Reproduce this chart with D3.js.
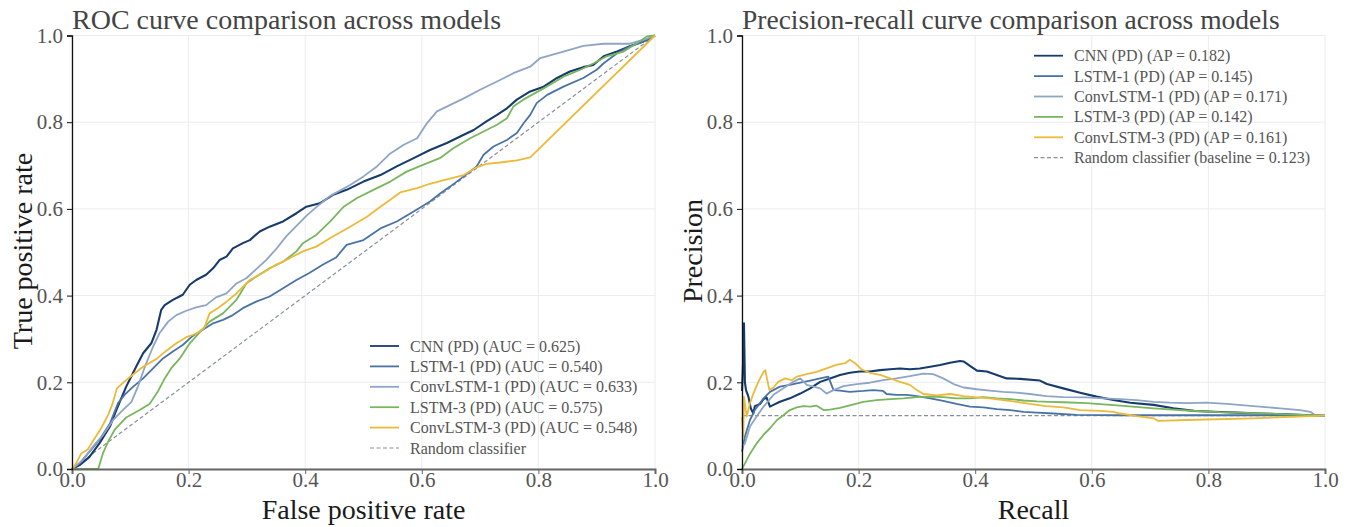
<!DOCTYPE html>
<html>
<head>
<meta charset="utf-8">
<script src="https://cdn.jsdelivr.net/npm/d3@7"></script>
<style>
  html, body { margin: 0; padding: 0; background: #fff; }
  svg { display: block; }
  text { font-family: "Liberation Serif", "Times New Roman", serif; }
</style>
</head>
<body>
<svg id="chart" width="1348" height="527"></svg>
<script>
// ---- model names and scores ----
const modelNames = ["CNN", "LSTM-1", "ConvLSTM-1", "LSTM-3", "ConvLSTM-3"];
const aucScores = [0.625, 0.540, 0.633, 0.575, 0.548];
const apScores = [0.182, 0.145, 0.171, 0.142, 0.161];
const baselinePrecision = 0.123;
const tickValues = [0, 0.2, 0.4, 0.6, 0.8, 1.0];

// ---- ROC curves: [false positive rate, true positive rate] ----
const rocCNN = [
  [0,0],[0.013,0.009],[0.030,0.028],[0.047,0.059],[0.065,0.098],[0.076,0.136],[0.093,0.190],
  [0.110,0.236],[0.122,0.267],[0.136,0.290],[0.145,0.321],[0.153,0.367],[0.159,0.378],
  [0.173,0.390],[0.190,0.402],[0.202,0.425],[0.213,0.436],[0.230,0.448],[0.242,0.463],
  [0.253,0.482],[0.265,0.490],[0.276,0.509],[0.293,0.521],[0.305,0.528],[0.322,0.548],
  [0.339,0.559],[0.362,0.571],[0.385,0.590],[0.402,0.605],[0.425,0.613],[0.447,0.632],
  [0.471,0.644],[0.500,0.663],[0.529,0.678],[0.557,0.698],[0.586,0.717],[0.614,0.736],
  [0.643,0.752],[0.672,0.771],[0.689,0.782],[0.711,0.802],[0.729,0.817],[0.746,0.832],
  [0.763,0.852],[0.786,0.871],[0.809,0.882],[0.832,0.902],[0.854,0.917],[0.877,0.927],
  [0.894,0.932],[0.912,0.952],[0.935,0.963],[0.957,0.975],[0.980,0.986],[1,1]
];
const rocLSTM1 = [
  [0,0],[0.013,0.013],[0.030,0.040],[0.047,0.067],[0.065,0.105],[0.079,0.152],[0.090,0.171],
  [0.105,0.190],[0.122,0.209],[0.139,0.232],[0.156,0.255],[0.173,0.271],[0.190,0.286],
  [0.207,0.307],[0.225,0.322],[0.242,0.336],[0.259,0.344],[0.276,0.355],[0.293,0.371],
  [0.316,0.386],[0.339,0.398],[0.362,0.417],[0.385,0.436],[0.407,0.452],[0.430,0.471],
  [0.453,0.488],[0.471,0.517],[0.500,0.528],[0.529,0.555],[0.557,0.571],[0.586,0.594],
  [0.614,0.617],[0.632,0.636],[0.649,0.652],[0.672,0.675],[0.694,0.698],[0.706,0.725],
  [0.723,0.744],[0.746,0.759],[0.763,0.775],[0.775,0.798],[0.786,0.817],[0.797,0.844],
  [0.815,0.863],[0.843,0.882],[0.877,0.902],[0.900,0.921],[0.912,0.936],[0.935,0.959],
  [0.957,0.975],[0.980,0.986],[1,1]
];
const rocConvLSTM1 = [
  [0,0],[0.019,0.021],[0.036,0.052],[0.053,0.078],[0.070,0.112],[0.087,0.136],[0.102,0.155],
  [0.113,0.190],[0.125,0.236],[0.139,0.282],[0.150,0.313],[0.165,0.340],[0.179,0.355],
  [0.196,0.365],[0.213,0.373],[0.230,0.378],[0.247,0.396],[0.265,0.405],[0.282,0.428],
  [0.299,0.440],[0.316,0.461],[0.333,0.482],[0.350,0.507],[0.367,0.536],[0.385,0.561],
  [0.402,0.584],[0.419,0.604],[0.443,0.630],[0.477,0.655],[0.500,0.675],[0.523,0.698],
  [0.546,0.728],[0.569,0.748],[0.592,0.763],[0.609,0.798],[0.626,0.825],[0.649,0.840],
  [0.672,0.855],[0.700,0.875],[0.729,0.894],[0.757,0.913],[0.786,0.928],[0.803,0.948],
  [0.843,0.963],[0.877,0.976],[0.912,0.981],[0.957,0.981],[0.980,0.990],[1,1]
];
const rocLSTM3 = [
  [0,0],[0.045,0],[0.053,0.036],[0.062,0.063],[0.073,0.090],[0.093,0.119],[0.116,0.136],
  [0.133,0.150],[0.147,0.178],[0.159,0.209],[0.170,0.232],[0.185,0.255],[0.202,0.290],
  [0.219,0.315],[0.236,0.340],[0.259,0.359],[0.282,0.390],[0.299,0.428],[0.316,0.444],
  [0.339,0.463],[0.362,0.478],[0.385,0.502],[0.396,0.521],[0.419,0.540],[0.443,0.571],
  [0.466,0.605],[0.489,0.625],[0.517,0.644],[0.546,0.663],[0.574,0.686],[0.603,0.702],
  [0.631,0.717],[0.654,0.740],[0.683,0.763],[0.711,0.782],[0.729,0.794],[0.746,0.809],
  [0.757,0.836],[0.774,0.852],[0.809,0.878],[0.843,0.905],[0.872,0.921],[0.895,0.936],
  [0.917,0.952],[0.946,0.963],[0.969,0.982],[0.986,0.998],[1,1]
];
const rocConvLSTM3 = [
  [0,0],[0.007,0.013],[0.016,0.036],[0.027,0.045],[0.039,0.071],[0.050,0.094],[0.062,0.125],
  [0.070,0.152],[0.077,0.186],[0.087,0.198],[0.102,0.215],[0.122,0.236],[0.145,0.254],
  [0.162,0.273],[0.179,0.290],[0.196,0.304],[0.213,0.312],[0.227,0.326],[0.236,0.359],
  [0.250,0.371],[0.265,0.386],[0.282,0.405],[0.305,0.436],[0.327,0.452],[0.350,0.471],
  [0.373,0.486],[0.396,0.502],[0.419,0.513],[0.443,0.533],[0.477,0.559],[0.506,0.582],
  [0.529,0.605],[0.546,0.621],[0.563,0.638],[0.592,0.648],[0.614,0.658],[0.643,0.668],
  [0.672,0.678],[0.694,0.696],[0.711,0.704],[0.734,0.707],[0.763,0.712],[0.786,0.719],[1,1]
];

// ---- precision-recall curves: [recall, precision] ----
const prCNN = [
  [0.000,0.180],[0.002,0.250],[0.0034,0.336],[0.005,0.200],[0.0069,0.182],[0.011,0.167],
  [0.015,0.140],[0.0195,0.128],[0.022,0.145],[0.031,0.150],[0.037,0.161],[0.042,0.165],
  [0.048,0.144],[0.054,0.148],[0.065,0.155],[0.082,0.163],[0.100,0.174],[0.117,0.186],
  [0.134,0.201],[0.151,0.209],[0.168,0.217],[0.185,0.222],[0.202,0.225],[0.219,0.225],
  [0.237,0.228],[0.254,0.230],[0.271,0.232],[0.288,0.230],[0.305,0.232],[0.323,0.236],
  [0.340,0.240],[0.357,0.245],[0.374,0.249],[0.380,0.248],[0.391,0.238],[0.403,0.227],
  [0.420,0.225],[0.437,0.217],[0.454,0.209],[0.477,0.208],[0.511,0.204],[0.523,0.196],
  [0.551,0.186],[0.580,0.176],[0.608,0.167],[0.637,0.159],[0.666,0.153],[0.706,0.148],
  [0.740,0.140],[0.775,0.134],[0.809,0.132],[0.849,0.130],[0.889,0.128],[0.935,0.126],
  [0.975,0.124],[1.0,0.123]
];
const prLSTM1 = [
  [0.000,0.040],[0.005,0.075],[0.0137,0.113],[0.022,0.136],[0.037,0.163],[0.048,0.178],
  [0.065,0.190],[0.082,0.194],[0.100,0.199],[0.117,0.204],[0.134,0.209],[0.148,0.213],
  [0.157,0.182],[0.168,0.181],[0.185,0.178],[0.208,0.180],[0.225,0.182],[0.242,0.180],
  [0.248,0.173],[0.265,0.171],[0.282,0.171],[0.300,0.168],[0.323,0.163],[0.345,0.157],
  [0.368,0.150],[0.391,0.144],[0.414,0.142],[0.437,0.138],[0.460,0.136],[0.483,0.132],
  [0.506,0.130],[0.534,0.128],[0.574,0.125],[0.649,0.124],[0.763,0.124],[0.880,0.124],[1.0,0.123]
];
const prConvLSTM1 = [
  [0.000,0.050],[0.005,0.059],[0.0137,0.098],[0.025,0.121],[0.037,0.144],[0.054,0.171],
  [0.071,0.186],[0.088,0.201],[0.100,0.209],[0.111,0.194],[0.123,0.190],[0.134,0.186],
  [0.145,0.174],[0.157,0.182],[0.174,0.191],[0.197,0.196],[0.219,0.199],[0.242,0.205],
  [0.265,0.209],[0.288,0.214],[0.311,0.220],[0.328,0.219],[0.345,0.209],[0.363,0.196],
  [0.380,0.188],[0.403,0.184],[0.425,0.181],[0.448,0.178],[0.471,0.176],[0.494,0.173],
  [0.522,0.168],[0.551,0.166],[0.591,0.165],[0.620,0.163],[0.649,0.161],[0.677,0.159],
  [0.706,0.155],[0.734,0.153],[0.763,0.152],[0.797,0.153],[0.832,0.150],[0.877,0.145],
  [0.923,0.140],[0.957,0.136],[0.975,0.132],[0.983,0.124],[1.0,0.123]
];
const prLSTM3 = [
  [0.000,0.000],[0.002,0.005],[0.014,0.036],[0.025,0.059],[0.037,0.079],[0.048,0.094],
  [0.060,0.113],[0.071,0.124],[0.082,0.136],[0.094,0.142],[0.105,0.145],[0.117,0.144],
  [0.128,0.146],[0.140,0.136],[0.151,0.137],[0.168,0.141],[0.185,0.147],[0.208,0.155],
  [0.231,0.159],[0.254,0.161],[0.277,0.163],[0.300,0.166],[0.323,0.167],[0.345,0.166],
  [0.368,0.163],[0.391,0.163],[0.414,0.166],[0.437,0.163],[0.460,0.161],[0.483,0.158],
  [0.506,0.156],[0.528,0.155],[0.551,0.154],[0.591,0.152],[0.649,0.146],[0.706,0.140],
  [0.763,0.135],[0.820,0.131],[0.877,0.129],[0.935,0.126],[1.0,0.123]
];
const prConvLSTM3 = [
  [0.000,0.120],[0.0023,0.074],[0.0034,0.167],[0.008,0.121],[0.0137,0.152],[0.0195,0.174],
  [0.028,0.201],[0.037,0.224],[0.040,0.228],[0.044,0.201],[0.047,0.182],[0.054,0.188],
  [0.062,0.201],[0.074,0.209],[0.085,0.205],[0.094,0.213],[0.111,0.219],[0.128,0.224],
  [0.145,0.232],[0.162,0.240],[0.177,0.244],[0.185,0.252],[0.194,0.244],[0.205,0.230],
  [0.219,0.222],[0.237,0.217],[0.254,0.209],[0.271,0.201],[0.288,0.194],[0.300,0.182],
  [0.311,0.173],[0.334,0.170],[0.357,0.173],[0.380,0.168],[0.403,0.165],[0.425,0.163],
  [0.448,0.159],[0.471,0.155],[0.494,0.150],[0.522,0.145],[0.551,0.142],[0.580,0.136],
  [0.614,0.134],[0.637,0.132],[0.649,0.128],[0.677,0.122],[0.706,0.117],[0.714,0.111],
  [0.763,0.113],[0.877,0.117],[1.0,0.123]
];

const rocSeries = [rocCNN, rocLSTM1, rocConvLSTM1, rocLSTM3, rocConvLSTM3];
const prSeries = [prCNN, prLSTM1, prConvLSTM1, prLSTM3, prConvLSTM3];
const colors = ["#173c6c", "#4a73a5", "#8ea5c5", "#7ab65e", "#ebba3a"];
const dashColor = "#8a909b";

const svg = d3.select("#chart");

function drawPanel(opts) {
  const x = d3.scaleLinear().domain([0, 1]).range([opts.x0, opts.x1]);
  const y = d3.scaleLinear().domain([0, 1]).range([469, 35.5]);
  const g = svg.append("g");

  // grid
  g.append("g").selectAll("line").data(tickValues).join("line")
    .attr("x1", d => x(d)).attr("x2", d => x(d))
    .attr("y1", y(0)).attr("y2", y(1))
    .attr("stroke", "#ececec").attr("stroke-width", 1);
  g.append("g").selectAll("line").data(tickValues).join("line")
    .attr("x1", x(0)).attr("x2", x(1))
    .attr("y1", d => y(d)).attr("y2", d => y(d))
    .attr("stroke", "#ececec").attr("stroke-width", 1);

  // reference line
  const line = d3.line().x(d => x(d[0])).y(d => y(d[1]));
  g.append("path").datum(opts.reference).attr("d", line)
    .attr("fill", "none").attr("stroke", dashColor)
    .attr("stroke-width", 1.2).attr("stroke-dasharray", "4,2.5");

  // curves
  opts.series.forEach((s, i) => {
    g.append("path").datum(s).attr("d", line)
      .attr("fill", "none").attr("stroke", colors[i])
      .attr("stroke-width", i === 0 ? 2.1 : 1.8)
      .attr("stroke-linejoin", "round");
  });

  // axes
  const fmt = d3.format(".1f");
  const xAxis = g.append("g").attr("transform", `translate(0,${y(0)})`)
    .call(d3.axisBottom(x).tickValues(tickValues).tickFormat(fmt).tickSize(5));
  xAxis.select(".domain").attr("stroke", "#666").attr("stroke-width", 2);
  xAxis.selectAll(".tick line").attr("stroke", "#666").attr("stroke-width", 1);
  xAxis.selectAll(".tick text").attr("y", 3).attr("fill", "#555").style("font-size", "21px")
    .style("font-family", "'Liberation Serif', serif");

  const yAxis = g.append("g").attr("transform", `translate(${x(0)},0)`)
    .call(d3.axisLeft(y).tickValues(tickValues).tickFormat(fmt).tickSize(5).tickPadding(4));
  yAxis.select(".domain").attr("stroke", "#111").attr("stroke-width", 1.3);
  yAxis.selectAll(".tick line").attr("stroke", "#111").attr("stroke-width", 1);
  yAxis.selectAll(".tick text").attr("fill", "#555").style("font-size", "21px")
    .style("font-family", "'Liberation Serif', serif");

  // title
  g.append("text").attr("x", opts.x0).attr("y", 29)
    .attr("fill", "#444").style("font-size", opts.titleSize).text(opts.title);
  // axis labels
  g.append("text").attr("x", (opts.x0 + opts.x1) / 2).attr("y", 519)
    .attr("text-anchor", "middle").attr("fill", "#1a1a1a").style("font-size", "28px")
    .text(opts.xLabel);
  g.append("text").attr("transform", `translate(${opts.yLabelX},251) rotate(-90)`)
    .attr("text-anchor", "middle").attr("fill", "#1a1a1a").style("font-size", "28px")
    .text(opts.yLabel);

  // legend
  const lg = g.append("g");
  opts.legend.forEach((lab, i) => {
    const yy = opts.legY + i * 20.4;
    const isRef = i === opts.legend.length - 1;
    lg.append("line").attr("x1", opts.legX).attr("x2", opts.legX + 29)
      .attr("y1", yy).attr("y2", yy)
      .attr("stroke", isRef ? dashColor : colors[i])
      .attr("stroke-width", isRef ? 1.2 : 1.8)
      .attr("stroke-dasharray", isRef ? "4,2.5" : null);
    lg.append("text").attr("x", opts.legX + 40).attr("y", yy)
      .attr("dominant-baseline", "central").attr("fill", "#555")
      .style("font-size", "16px").text(lab);
  });
}

drawPanel({
  x0: 72, x1: 655,
  series: rocSeries,
  reference: [[0, 0], [1, 1]],
  title: "ROC curve comparison across models",
  titleSize: "28px",
  xLabel: "False positive rate",
  yLabel: "True positive rate",
  yLabelX: 32,
  legX: 370, legY: 346,
  legend: modelNames.map((m, i) => `${m} (PD) (AUC = ${aucScores[i].toFixed(3)})`).concat(["Random classifier"])
});

drawPanel({
  x0: 742, x1: 1325,
  series: prSeries,
  reference: [[0, baselinePrecision], [1, baselinePrecision]],
  title: "Precision-recall curve comparison across models",
  titleSize: "27.5px",
  xLabel: "Recall",
  yLabel: "Precision",
  yLabelX: 702,
  legX: 1034, legY: 55.7,
  legend: modelNames.map((m, i) => `${m} (PD) (AP = ${apScores[i].toFixed(3)})`).concat([`Random classifier (baseline = ${baselinePrecision.toFixed(3)})`])
});
</script>
</body>
</html>
